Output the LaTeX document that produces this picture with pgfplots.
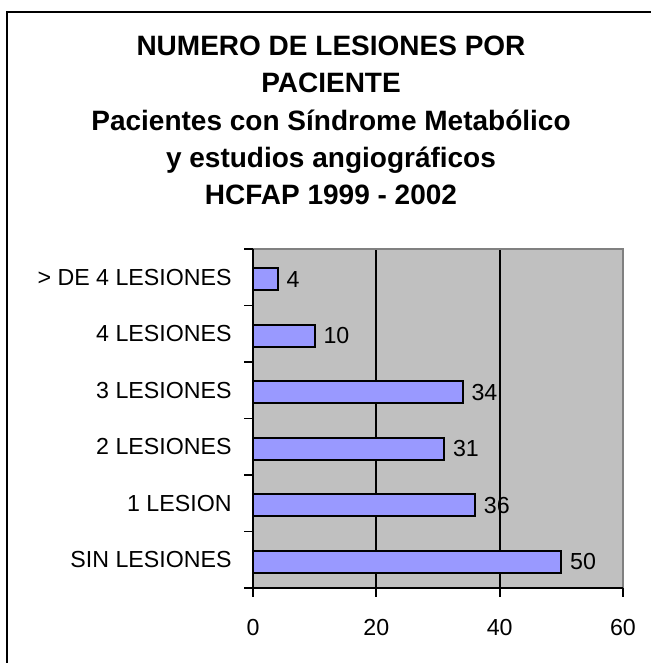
\documentclass[border=0pt]{standalone}
\usepackage{pgfplots}
\pgfplotsset{compat=1.18}
\usepackage{fontspec}
\setmainfont{Liberation Sans}
\definecolor{bgc}{HTML}{C0C0C0}
\definecolor{barc}{HTML}{9999FF}
\definecolor{edge}{HTML}{808080}
\begin{document}
\begin{tikzpicture}
\useasboundingbox (0,0) rectangle (325.5pt,331.5pt);
\draw[line width=1pt] (3.5pt,-20pt) -- (3.5pt,325.5pt) -- (345pt,325.5pt);
\begin{scope}[font=\fontsize{14pt}{16pt}\selectfont\bfseries]
\node[anchor=base, inner sep=0pt] at (165.5pt,303.5pt) {NUMERO DE LESIONES POR};
\node[anchor=base, inner sep=0pt] at (165.5pt,285pt) {PACIENTE};
\node[anchor=base, inner sep=0pt] at (165.5pt,266pt) {Pacientes con Síndrome Metabólico};
\node[anchor=base, inner sep=0pt] at (165.5pt,247.5pt) {y estudios angiográficos};
\node[anchor=base, inner sep=0pt] at (165.5pt,229pt) {HCFAP 1999 - 2002};
\end{scope}
\begin{axis}[
 at={(126.5pt,37.5pt)}, anchor=south west, scale only axis,
 width=185pt, height=169.5pt,
 xbar, bar width=11pt, bar shift=-1pt,
 xmin=0, xmax=60, ymin=-0.5, ymax=5.5,
 axis line style={draw=none},
 axis background/.style={fill=bgc},
 xtick={0,20,40,60}, xtick pos=bottom, ytick pos=left,
 tick align=outside, major tick length=4.5pt,
 tick style={black, line width=0.9pt},
 ytick={-0.5,0.5,1.5,2.5,3.5,4.5,5.5},
 yticklabels={},
 extra y ticks={0,1,2,3,4,5},
 extra y tick labels={SIN LESIONES,1 LESION,2 LESIONES,3 LESIONES,4 LESIONES,{> DE 4 LESIONES}},
 extra y tick style={major tick length=0pt},
 extra x ticks={20,40}, extra x tick labels={},
 extra x tick style={grid=major, major tick length=0pt},
 grid style={black, line width=0.9pt},
 ticklabel style={font=\fontsize{11.6pt}{14pt}\selectfont},
 yticklabel style={inner sep=0pt, xshift=-10.5pt},
 xticklabel style={inner sep=0pt, yshift=-10.75pt},
 /pgf/number format/assume math mode=true,
 nodes near coords,
 nodes near coords style={font=\fontsize{11.6pt}{14pt}\selectfont, anchor=west, inner sep=0pt, xshift=4pt, black},
 clip=false,
]
\addplot[fill=barc, draw=black, line width=0.9pt] coordinates {(50,0) (36,1) (31,2) (34,3) (10,4) (4,5)};
\draw[edge, line width=0.9pt] (rel axis cs:0,1) -- (rel axis cs:1,1) -- (rel axis cs:1,0);
\draw[black, line width=0.9pt] (rel axis cs:0,1) -- (rel axis cs:0,0) -- (rel axis cs:1,0);
\end{axis}
\end{tikzpicture}
\end{document}
